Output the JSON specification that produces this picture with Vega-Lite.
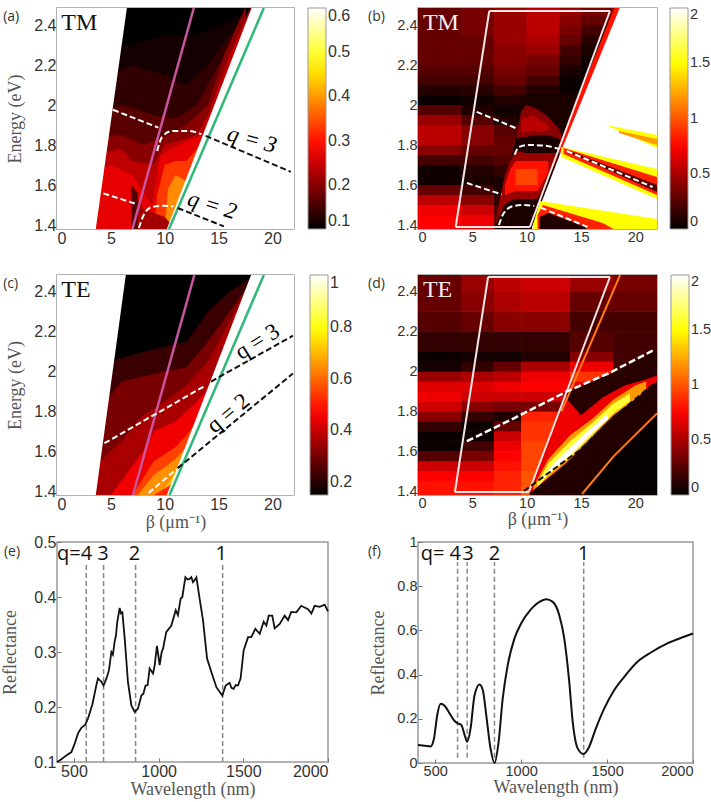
{"$schema":"https://vega.github.io/schema/vega-lite/v6.json","padding":{"left":1,"top":6,"right":0,"bottom":0},"background":"white","columns":2,"align":"all","bounds":"flush","spacing":{"column":86,"row":46},"resolve":{"scale":{"color":"independent","stroke":"independent","fill":"independent"},"legend":{"color":"independent","stroke":"independent","fill":"independent"}},
"config":{"view":{"stroke":"#999","strokeWidth":1.5},"axis":{"domain":false,"grid":false,"tickColor":"#777","tickSize":-4,"labelPadding":5,"labelFont":"Liberation Sans","labelFontSize":14.5,"labelColor":"#333","titleFont":"Liberation Serif","titleFontSize":18,"titleFontWeight":"normal","titleColor":"#555"},"legend":{"title":null,"orient":"right","offset":13,"padding":0,"gradientLength":221,"gradientThickness":18,"labelFont":"Liberation Sans","labelFontSize":14.5,"labelColor":"#333","gradientStrokeColor":"#999","gradientStrokeWidth":1,"labelOffset":4}},
"datasets":{"bcells":[
{"x":0,"X":4,"y":1.38,"Y":1.45,"v":0.75},{"x":4,"X":7,"y":1.38,"Y":1.45,"v":0.7},{"x":7,"X":10,"y":1.38,"Y":1.45,"v":0.3},
{"x":0,"X":4,"y":1.45,"Y":1.5,"v":0.7},{"x":4,"X":7,"y":1.45,"Y":1.5,"v":0.6},{"x":7,"X":10,"y":1.45,"Y":1.5,"v":0.25},
{"x":0,"X":4,"y":1.5,"Y":1.55,"v":0.55},{"x":4,"X":7,"y":1.5,"Y":1.55,"v":0.4},{"x":7,"X":10,"y":1.5,"Y":1.55,"v":0.15},
{"x":0,"X":4,"y":1.55,"Y":1.6,"v":0.3},{"x":4,"X":7,"y":1.55,"Y":1.6,"v":0.2},{"x":7,"X":10,"y":1.55,"Y":1.6,"v":0.08},
{"x":0,"X":4,"y":1.6,"Y":1.65,"v":0.05},{"x":4,"X":7,"y":1.6,"Y":1.65,"v":0.08},{"x":7,"X":10,"y":1.6,"Y":1.65,"v":0.08},
{"x":0,"X":4,"y":1.65,"Y":1.7,"v":0.05},{"x":4,"X":7,"y":1.65,"Y":1.7,"v":0.1},{"x":7,"X":10,"y":1.65,"Y":1.7,"v":0.15},
{"x":0,"X":4,"y":1.7,"Y":1.75,"v":0.2},{"x":4,"X":7,"y":1.7,"Y":1.75,"v":0.2},{"x":7,"X":10,"y":1.7,"Y":1.75,"v":0.25},
{"x":0,"X":4,"y":1.75,"Y":1.8,"v":0.4},{"x":4,"X":7,"y":1.75,"Y":1.8,"v":0.3},{"x":7,"X":10,"y":1.75,"Y":1.8,"v":0.3},
{"x":0,"X":4,"y":1.8,"Y":1.85,"v":0.55},{"x":4,"X":7,"y":1.8,"Y":1.85,"v":0.4},{"x":7,"X":10,"y":1.8,"Y":1.85,"v":0.3},
{"x":0,"X":4,"y":1.85,"Y":1.9,"v":0.55},{"x":4,"X":7,"y":1.85,"Y":1.9,"v":0.4},{"x":7,"X":10,"y":1.85,"Y":1.9,"v":0.25},
{"x":0,"X":4,"y":1.9,"Y":1.95,"v":0.45},{"x":4,"X":7,"y":1.9,"Y":1.95,"v":0.25},{"x":7,"X":10,"y":1.9,"Y":1.95,"v":0.1},
{"x":0,"X":4,"y":1.95,"Y":2,"v":0.25},{"x":4,"X":7,"y":1.95,"Y":2,"v":0.1},{"x":7,"X":10,"y":1.95,"Y":2,"v":0.05},
{"x":0,"X":4,"y":2,"Y":2.05,"v":0.03},{"x":4,"X":7,"y":2,"Y":2.05,"v":0.05},{"x":7,"X":10,"y":2,"Y":2.05,"v":0.1},
{"x":0,"X":4,"y":2.05,"Y":2.1,"v":0.1},{"x":4,"X":7,"y":2.05,"Y":2.1,"v":0.12},{"x":7,"X":10,"y":2.05,"Y":2.1,"v":0.2},{"x":10,"X":13,"y":2.05,"Y":2.1,"v":0.1},{"x":13,"X":15,"y":2.05,"Y":2.1,"v":0.03},{"x":15,"X":19,"y":2.05,"Y":2.1,"v":0.03},
{"x":0,"X":4,"y":2.1,"Y":2.15,"v":0.2},{"x":4,"X":7,"y":2.1,"Y":2.15,"v":0.2},{"x":7,"X":10,"y":2.1,"Y":2.15,"v":0.3},{"x":10,"X":13,"y":2.1,"Y":2.15,"v":0.2},{"x":13,"X":15,"y":2.1,"Y":2.15,"v":0.03},{"x":15,"X":19,"y":2.1,"Y":2.15,"v":0.03},
{"x":0,"X":4,"y":2.15,"Y":2.2,"v":0.25},{"x":4,"X":7,"y":2.15,"Y":2.2,"v":0.25},{"x":7,"X":10,"y":2.15,"Y":2.2,"v":0.35},{"x":10,"X":13,"y":2.15,"Y":2.2,"v":0.3},{"x":13,"X":15,"y":2.15,"Y":2.2,"v":0.08},{"x":15,"X":19,"y":2.15,"Y":2.2,"v":0.03},
{"x":0,"X":4,"y":2.2,"Y":2.25,"v":0.3},{"x":4,"X":7,"y":2.2,"Y":2.25,"v":0.3},{"x":7,"X":10,"y":2.2,"Y":2.25,"v":0.4},{"x":10,"X":13,"y":2.2,"Y":2.25,"v":0.35},{"x":13,"X":15,"y":2.2,"Y":2.25,"v":0.15},{"x":15,"X":19,"y":2.2,"Y":2.25,"v":0.04},
{"x":0,"X":4,"y":2.25,"Y":2.3,"v":0.3},{"x":4,"X":7,"y":2.25,"Y":2.3,"v":0.3},{"x":7,"X":10,"y":2.25,"Y":2.3,"v":0.4},{"x":10,"X":13,"y":2.25,"Y":2.3,"v":0.45},{"x":13,"X":15,"y":2.25,"Y":2.3,"v":0.2},{"x":15,"X":19,"y":2.25,"Y":2.3,"v":0.08},
{"x":0,"X":4,"y":2.3,"Y":2.35,"v":0.3},{"x":4,"X":7,"y":2.3,"Y":2.35,"v":0.3},{"x":7,"X":10,"y":2.3,"Y":2.35,"v":0.45},{"x":10,"X":13,"y":2.3,"Y":2.35,"v":0.5},{"x":13,"X":15,"y":2.3,"Y":2.35,"v":0.3},{"x":15,"X":19,"y":2.3,"Y":2.35,"v":0.12},
{"x":0,"X":4,"y":2.35,"Y":2.4,"v":0.3},{"x":4,"X":7,"y":2.35,"Y":2.4,"v":0.35},{"x":7,"X":10,"y":2.35,"Y":2.4,"v":0.45},{"x":10,"X":13,"y":2.35,"Y":2.4,"v":0.55},{"x":13,"X":15,"y":2.35,"Y":2.4,"v":0.35},{"x":15,"X":19,"y":2.35,"Y":2.4,"v":0.2},
{"x":0,"X":4,"y":2.4,"Y":2.45,"v":0.3},{"x":4,"X":7,"y":2.4,"Y":2.45,"v":0.35},{"x":7,"X":10,"y":2.4,"Y":2.45,"v":0.45},{"x":10,"X":13,"y":2.4,"Y":2.45,"v":0.55},{"x":13,"X":15,"y":2.4,"Y":2.45,"v":0.4},{"x":15,"X":19,"y":2.4,"Y":2.45,"v":0.3},
{"x":0,"X":4,"y":2.45,"Y":2.49,"v":0.3},{"x":4,"X":7,"y":2.45,"Y":2.49,"v":0.35},{"x":7,"X":10,"y":2.45,"Y":2.49,"v":0.45},{"x":10,"X":13,"y":2.45,"Y":2.49,"v":0.55},{"x":13,"X":15,"y":2.45,"Y":2.49,"v":0.45},{"x":15,"X":19,"y":2.45,"Y":2.49,"v":0.35}],
"dcells":[
{"x":0,"X":4,"y":1.38,"Y":1.45,"v":0.8},{"x":4,"X":7,"y":1.38,"Y":1.45,"v":0.8},{"x":7,"X":9.5,"y":1.38,"Y":1.45,"v":0.85},{"x":9.5,"X":14,"y":1.38,"Y":1.45,"v":1},
{"x":0,"X":4,"y":1.45,"Y":1.5,"v":0.75},{"x":4,"X":7,"y":1.45,"Y":1.5,"v":0.75},{"x":7,"X":9.5,"y":1.45,"Y":1.5,"v":0.85},{"x":9.5,"X":14,"y":1.45,"Y":1.5,"v":1},
{"x":0,"X":4,"y":1.5,"Y":1.55,"v":0.6},{"x":4,"X":7,"y":1.5,"Y":1.55,"v":0.6},{"x":7,"X":9.5,"y":1.5,"Y":1.55,"v":0.8},{"x":9.5,"X":14,"y":1.5,"Y":1.55,"v":0.95},
{"x":0,"X":4,"y":1.55,"Y":1.6,"v":0.25},{"x":4,"X":7,"y":1.55,"Y":1.6,"v":0.35},{"x":7,"X":9.5,"y":1.55,"Y":1.6,"v":0.75},{"x":9.5,"X":14,"y":1.55,"Y":1.6,"v":0.95},
{"x":0,"X":4,"y":1.6,"Y":1.65,"v":0.03},{"x":4,"X":7,"y":1.6,"Y":1.65,"v":0.2},{"x":7,"X":9.5,"y":1.6,"Y":1.65,"v":0.7},{"x":9.5,"X":14,"y":1.6,"Y":1.65,"v":0.95},
{"x":0,"X":4,"y":1.65,"Y":1.7,"v":0.03},{"x":4,"X":7,"y":1.65,"Y":1.7,"v":0.03},{"x":7,"X":9.5,"y":1.65,"Y":1.7,"v":0.6},{"x":9.5,"X":14,"y":1.65,"Y":1.7,"v":0.9},
{"x":0,"X":4,"y":1.7,"Y":1.75,"v":0.15},{"x":4,"X":7,"y":1.7,"Y":1.75,"v":0.03},{"x":7,"X":9.5,"y":1.7,"Y":1.75,"v":0.3},{"x":9.5,"X":14,"y":1.7,"Y":1.75,"v":0.9},
{"x":0,"X":4,"y":1.75,"Y":1.8,"v":0.4},{"x":4,"X":7,"y":1.75,"Y":1.8,"v":0.15},{"x":7,"X":9.5,"y":1.75,"Y":1.8,"v":0.1},{"x":9.5,"X":14,"y":1.75,"Y":1.8,"v":0.85},
{"x":0,"X":4,"y":1.8,"Y":1.85,"v":0.6},{"x":4,"X":7,"y":1.8,"Y":1.85,"v":0.4},{"x":7,"X":9.5,"y":1.8,"Y":1.85,"v":0.35},{"x":9.5,"X":14,"y":1.8,"Y":1.85,"v":0.35},
{"x":0,"X":4,"y":1.85,"Y":1.9,"v":0.7},{"x":4,"X":7,"y":1.85,"Y":1.9,"v":0.6},{"x":7,"X":9.5,"y":1.85,"Y":1.9,"v":0.6},{"x":9.5,"X":14,"y":1.85,"Y":1.9,"v":0.6},
{"x":0,"X":4,"y":1.9,"Y":1.95,"v":0.65},{"x":4,"X":7,"y":1.9,"Y":1.95,"v":0.65},{"x":7,"X":9.5,"y":1.9,"Y":1.95,"v":0.7},{"x":9.5,"X":14,"y":1.9,"Y":1.95,"v":0.75},{"x":14,"X":18,"y":1.9,"Y":1.95,"v":0.7},{"x":18,"X":22,"y":1.9,"Y":1.95,"v":0.2},
{"x":0,"X":4,"y":1.95,"Y":2,"v":0.45},{"x":4,"X":7,"y":1.95,"Y":2,"v":0.5},{"x":7,"X":9.5,"y":1.95,"Y":2,"v":0.55},{"x":9.5,"X":14,"y":1.95,"Y":2,"v":0.7},{"x":14,"X":18,"y":1.95,"Y":2,"v":0.9},{"x":18,"X":22,"y":1.95,"Y":2,"v":0.2},
{"x":0,"X":4,"y":2,"Y":2.05,"v":0.06},{"x":4,"X":7,"y":2,"Y":2.05,"v":0.15},{"x":7,"X":9.5,"y":2,"Y":2.05,"v":0.3},{"x":9.5,"X":14,"y":2,"Y":2.05,"v":0.5},{"x":14,"X":18,"y":2,"Y":2.05,"v":0.7},{"x":18,"X":22,"y":2,"Y":2.05,"v":0.2},
{"x":0,"X":4,"y":2.05,"Y":2.1,"v":0.03},{"x":4,"X":7,"y":2.05,"Y":2.1,"v":0.06},{"x":7,"X":9.5,"y":2.05,"Y":2.1,"v":0.06},{"x":9.5,"X":14,"y":2.05,"Y":2.1,"v":0.1},{"x":14,"X":18,"y":2.05,"Y":2.1,"v":0.4},{"x":18,"X":22,"y":2.05,"Y":2.1,"v":0.2},
{"x":0,"X":4,"y":2.1,"Y":2.2,"v":0.15},{"x":4,"X":7,"y":2.1,"Y":2.2,"v":0.15},{"x":7,"X":9.5,"y":2.1,"Y":2.2,"v":0.15},{"x":9.5,"X":14,"y":2.1,"Y":2.2,"v":0.15},{"x":14,"X":18,"y":2.1,"Y":2.2,"v":0.25},{"x":18,"X":22,"y":2.1,"Y":2.2,"v":0.2},
{"x":0,"X":4,"y":2.2,"Y":2.3,"v":0.25},{"x":4,"X":7,"y":2.2,"Y":2.3,"v":0.3},{"x":7,"X":9.5,"y":2.2,"Y":2.3,"v":0.4},{"x":9.5,"X":14,"y":2.2,"Y":2.3,"v":0.4},{"x":14,"X":18,"y":2.2,"Y":2.3,"v":0.2},{"x":18,"X":22,"y":2.2,"Y":2.3,"v":0.2},
{"x":0,"X":4,"y":2.3,"Y":2.4,"v":0.3},{"x":4,"X":7,"y":2.3,"Y":2.4,"v":0.4},{"x":7,"X":9.5,"y":2.3,"Y":2.4,"v":0.5},{"x":9.5,"X":14,"y":2.3,"Y":2.4,"v":0.55},{"x":14,"X":18,"y":2.3,"Y":2.4,"v":0.3},{"x":18,"X":22,"y":2.3,"Y":2.4,"v":0.3},
{"x":0,"X":4,"y":2.4,"Y":2.49,"v":0.3},{"x":4,"X":7,"y":2.4,"Y":2.49,"v":0.45},{"x":7,"X":9.5,"y":2.4,"Y":2.49,"v":0.55},{"x":9.5,"X":14,"y":2.4,"Y":2.49,"v":0.6},{"x":14,"X":18,"y":2.4,"Y":2.49,"v":0.45},{"x":18,"X":22,"y":2.4,"Y":2.49,"v":0.35}]},
"concat":[
{"width":237,"height":221,"encoding":{"x":{"field":"x","type":"quantitative","scale":{"domain":[0,22]},"axis":{"values":[0,5,10,15,20],"title":null,"labelFontSize":16}},"y":{"field":"y","type":"quantitative","scale":{"domain":[1.38,2.485]},"axis":{"values":[1.4,1.6,1.8,2,2.2,2.4],"format":".2~f","title":"Energy (eV)","titlePadding":9,"labelFontSize":16}}},
"layer":[
{"data":{"values":[{"s":0,"x":3,"y":1.38,"Y":2.49,"v":0.1},{"s":0,"x":19,"y":1.38,"Y":2.49,"v":0.1},
{"s":1,"x":3,"y":1.38,"Y":2.3,"v":0.115},{"s":1,"x":7,"y":1.38,"Y":2.3,"v":0.115},{"s":1,"x":10,"y":1.38,"Y":2.35,"v":0.115},{"s":1,"x":13,"y":1.38,"Y":2.35,"v":0.115},{"s":1,"x":16,"y":1.38,"Y":2.42,"v":0.115},{"s":1,"x":19,"y":1.38,"Y":2.49,"v":0.115},
{"s":2,"x":3,"y":1.38,"Y":2.1,"v":0.135},{"s":2,"x":7,"y":1.38,"Y":2.2,"v":0.135},{"s":2,"x":10,"y":1.38,"Y":2.15,"v":0.135},{"s":2,"x":12,"y":1.38,"Y":2.1,"v":0.135},{"s":2,"x":14,"y":1.38,"Y":2.2,"v":0.135},{"s":2,"x":16,"y":1.38,"Y":2.35,"v":0.135},{"s":2,"x":19,"y":1.38,"Y":2.49,"v":0.135},
{"s":3,"x":3,"y":1.38,"Y":1.95,"v":0.165},{"s":3,"x":6,"y":1.38,"Y":2,"v":0.165},{"s":3,"x":9,"y":1.38,"Y":1.95,"v":0.165},{"s":3,"x":11,"y":1.38,"Y":1.93,"v":0.165},{"s":3,"x":13,"y":1.38,"Y":2,"v":0.165},{"s":3,"x":15,"y":1.38,"Y":2.2,"v":0.165},{"s":3,"x":19,"y":1.38,"Y":2.49,"v":0.165},
{"s":4,"x":3,"y":1.38,"Y":1.83,"v":0.2},{"s":4,"x":6,"y":1.38,"Y":1.85,"v":0.2},{"s":4,"x":8,"y":1.38,"Y":1.8,"v":0.2},{"s":4,"x":10,"y":1.38,"Y":1.84,"v":0.2},{"s":4,"x":12,"y":1.38,"Y":1.9,"v":0.2},{"s":4,"x":14,"y":1.38,"Y":2,"v":0.2},{"s":4,"x":15.5,"y":1.38,"Y":2.25,"v":0.2},{"s":4,"x":17.5,"y":1.38,"Y":2.49,"v":0.2},
{"s":5,"x":3,"y":1.38,"Y":1.75,"v":0.24},{"s":5,"x":6,"y":1.38,"Y":1.78,"v":0.24},{"s":5,"x":7,"y":1.38,"Y":1.72,"v":0.24},{"s":5,"x":9,"y":1.38,"Y":1.7,"v":0.24},{"s":5,"x":10,"y":1.38,"Y":1.8,"v":0.24},{"s":5,"x":13,"y":1.38,"Y":1.85,"v":0.24},{"s":5,"x":14,"y":1.38,"Y":1.95,"v":0.24},{"s":5,"x":16,"y":1.38,"Y":2.25,"v":0.24},{"s":5,"x":18,"y":1.38,"Y":2.49,"v":0.24},
{"s":6,"x":3,"y":1.38,"Y":1.65,"v":0.27},{"s":6,"x":5,"y":1.38,"Y":1.7,"v":0.27},{"s":6,"x":7,"y":1.38,"Y":1.65,"v":0.27},{"s":6,"x":8.8,"y":1.38,"Y":1.5,"v":0.27},{"s":6,"x":9.6,"y":1.38,"Y":1.75,"v":0.27},{"s":6,"x":12,"y":1.38,"Y":1.82,"v":0.27},{"s":6,"x":13.5,"y":1.38,"Y":1.85,"v":0.27},{"s":6,"x":14.5,"y":1.38,"Y":1.98,"v":0.27},
{"s":7,"x":9,"y":1.38,"Y":1.38,"v":0.33},{"s":7,"x":9.3,"y":1.38,"Y":1.55,"v":0.33},{"s":7,"x":10,"y":1.38,"Y":1.7,"v":0.33},{"s":7,"x":11,"y":1.38,"Y":1.72,"v":0.33},{"s":7,"x":12,"y":1.38,"Y":1.72,"v":0.33},{"s":7,"x":13,"y":1.38,"Y":1.78,"v":0.33},{"s":7,"x":13.5,"y":1.38,"Y":1.8,"v":0.33},
{"s":8,"x":10,"y":1.38,"Y":1.38,"v":0.39},{"s":8,"x":10.3,"y":1.38,"Y":1.58,"v":0.39},{"s":8,"x":11,"y":1.38,"Y":1.65,"v":0.39},{"s":8,"x":12,"y":1.38,"Y":1.62,"v":0.39},{"s":8,"x":13,"y":1.38,"Y":1.73,"v":0.39},
{"s":9,"x":11.5,"y":1.38,"Y":1.38,"v":0.45},{"s":9,"x":12,"y":1.38,"Y":1.6,"v":0.45},{"s":9,"x":12.8,"y":1.38,"Y":1.68,"v":0.45},
{"s":10,"x":7.3,"y":1.38,"Y":1.55,"v":0.22},{"s":10,"x":8,"y":1.38,"Y":1.48,"v":0.22},{"s":10,"x":10,"y":1.38,"Y":1.44,"v":0.22},{"s":10,"x":11,"y":1.38,"Y":1.38,"v":0.22},
{"s":11,"x":6.9,"y":1.38,"Y":1.6,"v":0.16},{"s":11,"x":7.5,"y":1.38,"Y":1.56,"v":0.16},
{"s":12,"x":0,"y":1.38,"Y":2.49,"v":0.6},{"s":12,"x":3.6,"y":1.38,"Y":2.49,"v":0.6},{"s":12,"x":6.5,"y":2.49,"Y":2.49,"v":0.6},
{"s":13,"x":10.2,"y":1.38,"Y":1.38,"v":0.6},{"s":13,"x":18.1,"y":1.38,"Y":2.49,"v":0.6},{"s":13,"x":22,"y":1.38,"Y":2.49,"v":0.6}]},
"mark":{"type":"area","clip":true},"encoding":{"y2":{"field":"Y"},"detail":{"field":"s"},"color":{"field":"v","type":"quantitative","scale":{"domain":[0.1,0.2875,0.475,0.6],"range":["#000000","#ff0000","#ffff00","#ffffff"],"interpolate":"rgb"},"legend":{"type":"gradient","format":".1f","values":[0.1,0.2,0.3,0.4,0.5,0.6],"labelFontSize":16}}}},
{"data":{"values":[{"s":"p","x":7,"y":1.38},{"s":"p","x":12.7,"y":2.485}]},"mark":{"type":"line","stroke":"#c9559f","strokeWidth":2.5,"clip":true},"encoding":{"detail":{"field":"s"}}},
{"data":{"values":[{"s":"g","x":10.4,"y":1.38},{"s":"g","x":19.2,"y":2.485}]},"mark":{"type":"line","stroke":"#2fb87a","strokeWidth":2.5,"clip":true},"encoding":{"detail":{"field":"s"}}},
{"data":{"values":[{"s":1,"x":5.2,"y":1.976},{"s":1,"x":9.4,"y":1.887},{"s":2,"x":9.3,"y":1.77},{"s":2,"x":9.75,"y":1.84},{"s":2,"x":10.7,"y":1.87},{"s":2,"x":12.2,"y":1.87},{"s":2,"x":13.4,"y":1.854},{"s":3,"x":4.3,"y":1.558},{"s":3,"x":7.3,"y":1.506},{"s":4,"x":7.6,"y":1.385},{"s":4,"x":8.05,"y":1.45},{"s":4,"x":8.8,"y":1.49},{"s":4,"x":9.75,"y":1.496},{"s":4,"x":10.8,"y":1.493}]},"mark":{"type":"line","stroke":"#ffffff","strokeWidth":2,"strokeDash":[6,3],"interpolate":"monotone"},"encoding":{"detail":{"field":"s"}}},
{"data":{"values":[{"s":1,"x":13.8,"y":1.846},{"s":1,"x":21.7,"y":1.666},{"s":2,"x":11.2,"y":1.485},{"s":2,"x":15.5,"y":1.393}]},"mark":{"type":"line","stroke":"#111111","strokeWidth":2,"strokeDash":[6,3]},"encoding":{"detail":{"field":"s"}}},
{"data":{"values":[{"x":18.1,"y":1.826,"t":"q = 3"}]},"mark":{"type":"text","font":"Liberation Serif","fontStyle":"italic","fontSize":23,"angle":15},"encoding":{"text":{"field":"t"}}},
{"data":{"values":[{"x":14.4,"y":1.498,"t":"q = 2"}]},"mark":{"type":"text","font":"Liberation Serif","fontStyle":"italic","fontSize":23,"angle":17},"encoding":{"text":{"field":"t"}}},
{"data":{"values":[{"x":0.4,"y":2.41,"t":"TM"}]},"mark":{"type":"text","font":"Liberation Serif","fontSize":24,"align":"left","color":"#111"},"encoding":{"text":{"field":"t"}}},
{"data":{"values":[{"x":-5,"y":2.44,"t":"(a)"}]},"mark":{"type":"text","font":"Open Sans","fontSize":14,"align":"left","color":"#333"},"encoding":{"text":{"field":"t"}}}
]},
{"width":239,"height":221,"encoding":{"x":{"field":"x","type":"quantitative","scale":{"domain":[0,22]},"axis":{"values":[0,5,10,15,20],"title":null}},"y":{"field":"y","type":"quantitative","scale":{"domain":[1.38,2.485]},"axis":{"values":[1.4,1.6,1.8,2,2.2,2.4],"format":".2~f","title":null}}},
"layer":[
{"data":{"name":"bcells"},"mark":{"type":"rect","clip":true,"fillOpacity":0,"strokeWidth":0.8},"encoding":{"x2":{"field":"X"},"y2":{"field":"Y"},"stroke":{"field":"v","type":"quantitative","scale":{"domain":[0,0.75,1.5,2.0001],"range":["#000000","#ff0000","#ffff00","#ffffff"],"interpolate":"rgb"},"legend":null}}},
{"data":{"name":"bcells"},"mark":{"type":"rect","clip":true},"encoding":{"x2":{"field":"X"},"y2":{"field":"Y"},"color":{"field":"v","type":"quantitative","scale":{"domain":[0,0.75,1.5,2],"range":["#000000","#ff0000","#ffff00","#ffffff"],"interpolate":"rgb"},"legend":{"type":"gradient","format":"~g","values":[0,0.5,1,1.5,2]}}}},
{"data":{"values":[
{"s":1,"x":7,"y":1.38,"Y":1.38,"v":0.08},{"s":1,"x":8,"y":1.38,"Y":1.6,"v":0.08},{"s":1,"x":9,"y":1.38,"Y":1.83,"v":0.08},{"s":1,"x":9.5,"y":1.38,"Y":2,"v":0.08},{"s":1,"x":10,"y":1.38,"Y":2.06,"v":0.08},{"s":1,"x":12,"y":1.38,"Y":2.06,"v":0.08},{"s":1,"x":14,"y":1.38,"Y":2.06,"v":0.08},{"s":1,"x":19,"y":1.38,"Y":2.06,"v":0.08},
{"s":2,"x":9.1,"y":1.83,"Y":1.86,"v":0.4},{"s":2,"x":9.5,"y":1.84,"Y":1.97,"v":0.4},{"s":2,"x":10,"y":1.84,"Y":2,"v":0.4},{"s":2,"x":11,"y":1.85,"Y":1.98,"v":0.4},{"s":2,"x":12,"y":1.85,"Y":1.94,"v":0.4},{"s":2,"x":13,"y":1.83,"Y":1.88,"v":0.4},{"s":2,"x":13.4,"y":1.81,"Y":1.82,"v":0.4},
{"s":3,"x":9.5,"y":1.86,"Y":1.93,"v":0.55},{"s":3,"x":10.5,"y":1.87,"Y":1.95,"v":0.55},{"s":3,"x":12,"y":1.87,"Y":1.9,"v":0.55},
{"s":4,"x":7.2,"y":1.4,"Y":1.42,"v":0.45},{"s":4,"x":7.5,"y":1.45,"Y":1.52,"v":0.45},{"s":4,"x":8,"y":1.5,"Y":1.65,"v":0.45},{"s":4,"x":8.5,"y":1.52,"Y":1.72,"v":0.45},{"s":4,"x":9,"y":1.53,"Y":1.77,"v":0.45},{"s":4,"x":10,"y":1.53,"Y":1.76,"v":0.45},{"s":4,"x":11,"y":1.53,"Y":1.76,"v":0.45},{"s":4,"x":12,"y":1.63,"Y":1.76,"v":0.45},{"s":4,"x":12.9,"y":1.74,"Y":1.76,"v":0.45},
{"s":5,"x":8,"y":1.55,"Y":1.6,"v":0.8},{"s":5,"x":8.5,"y":1.56,"Y":1.68,"v":0.8},{"s":5,"x":9,"y":1.57,"Y":1.72,"v":0.8},{"s":5,"x":10,"y":1.57,"Y":1.72,"v":0.8},{"s":5,"x":11,"y":1.57,"Y":1.72,"v":0.8},{"s":5,"x":12,"y":1.66,"Y":1.72,"v":0.8},
{"s":6,"x":9,"y":1.6,"Y":1.68,"v":0.95},{"s":6,"x":10,"y":1.6,"Y":1.68,"v":0.95},{"s":6,"x":11,"y":1.6,"Y":1.68,"v":0.95},
{"s":7,"x":13,"y":1.74,"Y":1.8,"v":0.8},{"s":7,"x":18.1,"y":2.41,"Y":2.49,"v":0.8},{"s":7,"x":18.6,"y":2.48,"Y":2.49,"v":0.8},
{"s":8,"x":10.5,"y":1.38,"Y":1.39,"v":2},{"s":8,"x":13.4,"y":1.38,"Y":1.8,"v":2},{"s":8,"x":18.6,"y":1.38,"Y":2.49,"v":2},{"s":8,"x":22,"y":1.38,"Y":2.49,"v":2},
{"s":9,"x":13.2,"y":1.74,"Y":1.79,"v":1.5},{"s":9,"x":22,"y":1.53,"Y":1.68,"v":1.5},
{"s":10,"x":13.4,"y":1.755,"Y":1.785,"v":0.85},{"s":10,"x":22,"y":1.55,"Y":1.64,"v":0.85},
{"s":11,"x":14,"y":1.76,"Y":1.77,"v":0.25},{"s":11,"x":22,"y":1.565,"Y":1.6,"v":0.25},
{"s":12,"x":10.6,"y":1.38,"Y":1.4,"v":1.5},{"s":12,"x":11.2,"y":1.38,"Y":1.52,"v":1.5},{"s":12,"x":22,"y":1.38,"Y":1.43,"v":1.5},
{"s":13,"x":11,"y":1.38,"Y":1.45,"v":0.85},{"s":13,"x":11.5,"y":1.38,"Y":1.5,"v":0.85},{"s":13,"x":17,"y":1.38,"Y":1.41,"v":0.85},{"s":13,"x":18,"y":1.38,"Y":1.38,"v":0.85},
{"s":14,"x":11.2,"y":1.38,"Y":1.44,"v":0.1},{"s":14,"x":12,"y":1.38,"Y":1.46,"v":0.1},{"s":14,"x":15.5,"y":1.38,"Y":1.39,"v":0.1},
{"s":15,"x":17.3,"y":1.9,"Y":1.9,"v":1.5},{"s":15,"x":22,"y":1.785,"Y":1.85,"v":1.5},
{"s":16,"x":18.5,"y":1.86,"Y":1.87,"v":1.2},{"s":16,"x":22,"y":1.8,"Y":1.83,"v":1.2}]},
"mark":{"type":"area","clip":true},"encoding":{"y2":{"field":"Y"},"detail":{"field":"s"},"fill":{"field":"v","type":"quantitative","scale":{"domain":[0,0.75,1.5,2.0001],"range":["#000000","#ff0000","#ffff00","#ffffff"],"interpolate":"rgb"},"legend":null}}},
{"data":{"values":[{"s":1,"x":3.47,"y":1.39},{"s":1,"x":6.56,"y":2.47},{"s":2,"x":6.56,"y":2.47},{"s":2,"x":17.67,"y":2.47},{"s":3,"x":10.3,"y":1.39},{"s":3,"x":17.67,"y":2.47},{"s":4,"x":3.47,"y":1.39},{"s":4,"x":10.3,"y":1.39}]},"mark":{"type":"line","stroke":"#f2e6e6","strokeWidth":2},"encoding":{"detail":{"field":"s"}}},
{"data":{"values":[{"s":1,"x":5.4,"y":1.966},{"s":1,"x":9.2,"y":1.88},{"s":2,"x":8.9,"y":1.752},{"s":2,"x":9.3,"y":1.79},{"s":2,"x":10.06,"y":1.8},{"s":2,"x":11.6,"y":1.797},{"s":2,"x":13,"y":1.78},{"s":3,"x":4.5,"y":1.61},{"s":3,"x":7.7,"y":1.553},{"s":4,"x":7.45,"y":1.4},{"s":4,"x":7.9,"y":1.46},{"s":4,"x":8.8,"y":1.495},{"s":4,"x":9.75,"y":1.5},{"s":4,"x":10.7,"y":1.495},{"s":5,"x":13.7,"y":1.77},{"s":5,"x":21.6,"y":1.59},{"s":6,"x":11.3,"y":1.487},{"s":6,"x":15.6,"y":1.39}]},"mark":{"type":"line","stroke":"#ffffff","strokeWidth":2,"strokeDash":[6,3],"interpolate":"monotone"},"encoding":{"detail":{"field":"s"}}},
{"data":{"values":[{"x":0.45,"y":2.41,"t":"TM"}]},"mark":{"type":"text","font":"Liberation Serif","fontSize":24,"align":"left","color":"#f5eeee"},"encoding":{"text":{"field":"t"}}},
{"data":{"values":[{"x":-4.6,"y":2.44,"t":"(b)"}]},"mark":{"type":"text","font":"Open Sans","fontSize":14,"align":"left","color":"#333"},"encoding":{"text":{"field":"t"}}}
]},
{"width":237,"height":220,"encoding":{"x":{"field":"x","type":"quantitative","scale":{"domain":[0,22]},"axis":{"values":[0,5,10,15,20],"title":"β (μm⁻¹)","titlePadding":1,"labelFontSize":16}},"y":{"field":"y","type":"quantitative","scale":{"domain":[1.38,2.485]},"axis":{"values":[1.4,1.6,1.8,2,2.2,2.4],"format":".2~f","title":"Energy (eV)","titlePadding":9,"labelFontSize":16}}},
"layer":[
{"data":{"values":[{"s":0,"x":3,"y":1.38,"Y":2.49,"v":0.15},{"s":0,"x":19,"y":1.38,"Y":2.49,"v":0.15},
{"s":1,"x":3,"y":1.38,"Y":2,"v":0.22},{"s":1,"x":5,"y":1.38,"Y":2.05,"v":0.22},{"s":1,"x":8,"y":1.38,"Y":2.1,"v":0.22},{"s":1,"x":12,"y":1.38,"Y":2.15,"v":0.22},{"s":1,"x":14,"y":1.38,"Y":2.3,"v":0.22},{"s":1,"x":16,"y":1.38,"Y":2.4,"v":0.22},{"s":1,"x":18.5,"y":1.38,"Y":2.49,"v":0.22},
{"s":2,"x":3,"y":1.38,"Y":1.75,"v":0.3},{"s":2,"x":6,"y":1.38,"Y":1.95,"v":0.3},{"s":2,"x":10,"y":1.38,"Y":2,"v":0.3},{"s":2,"x":12,"y":1.38,"Y":2.02,"v":0.3},{"s":2,"x":14,"y":1.38,"Y":2.15,"v":0.3},{"s":2,"x":16,"y":1.38,"Y":2.3,"v":0.3},{"s":2,"x":18.5,"y":1.38,"Y":2.49,"v":0.3},
{"s":3,"x":3,"y":1.38,"Y":1.5,"v":0.36},{"s":3,"x":6,"y":1.38,"Y":1.65,"v":0.36},{"s":3,"x":8,"y":1.38,"Y":1.78,"v":0.36},{"s":3,"x":10,"y":1.38,"Y":1.85,"v":0.36},{"s":3,"x":12,"y":1.38,"Y":1.93,"v":0.36},{"s":3,"x":14,"y":1.38,"Y":2.05,"v":0.36},{"s":3,"x":16,"y":1.38,"Y":2.25,"v":0.36},{"s":3,"x":18,"y":1.38,"Y":2.46,"v":0.36},
{"s":4,"x":5,"y":1.38,"Y":1.38,"v":0.45},{"s":4,"x":8,"y":1.38,"Y":1.6,"v":0.45},{"s":4,"x":9,"y":1.38,"Y":1.7,"v":0.45},{"s":4,"x":11,"y":1.38,"Y":1.75,"v":0.45},{"s":4,"x":13,"y":1.38,"Y":1.85,"v":0.45},{"s":4,"x":15,"y":1.38,"Y":1.98,"v":0.45},{"s":4,"x":17,"y":1.38,"Y":2.25,"v":0.45},
{"s":5,"x":7,"y":1.38,"Y":1.38,"v":0.55},{"s":5,"x":9,"y":1.38,"Y":1.55,"v":0.55},{"s":5,"x":11,"y":1.38,"Y":1.62,"v":0.55},{"s":5,"x":12,"y":1.38,"Y":1.68,"v":0.55},{"s":5,"x":13,"y":1.38,"Y":1.75,"v":0.55},{"s":5,"x":15,"y":1.38,"Y":1.95,"v":0.55},
{"s":6,"x":7.5,"y":1.38,"Y":1.38,"v":0.65},{"s":6,"x":9,"y":1.38,"Y":1.48,"v":0.65},{"s":6,"x":10,"y":1.38,"Y":1.52,"v":0.65},{"s":6,"x":11,"y":1.38,"Y":1.56,"v":0.65},{"s":6,"x":12,"y":1.38,"Y":1.62,"v":0.65},{"s":6,"x":13,"y":1.38,"Y":1.73,"v":0.65},
{"s":7,"x":9.5,"y":1.38,"Y":1.38,"v":0.72},{"s":7,"x":10.5,"y":1.38,"Y":1.45,"v":0.72},{"s":7,"x":11.5,"y":1.38,"Y":1.55,"v":0.72},{"s":7,"x":12.5,"y":1.38,"Y":1.68,"v":0.72},
{"s":8,"x":9,"y":1.38,"Y":1.38,"v":0.52},{"s":8,"x":10.5,"y":1.38,"Y":1.43,"v":0.52},{"s":8,"x":11,"y":1.38,"Y":1.46,"v":0.52},
{"s":9,"x":0,"y":1.38,"Y":2.49,"v":1},{"s":9,"x":3.6,"y":1.38,"Y":2.49,"v":1},{"s":9,"x":6.4,"y":2.49,"Y":2.49,"v":1},
{"s":10,"x":10.2,"y":1.38,"Y":1.38,"v":1},{"s":10,"x":18.05,"y":1.38,"Y":2.49,"v":1},{"s":10,"x":22,"y":1.38,"Y":2.49,"v":1}]},
"mark":{"type":"area","clip":true},"encoding":{"y2":{"field":"Y"},"detail":{"field":"s"},"color":{"field":"v","type":"quantitative","scale":{"domain":[0.15,0.469,0.7875,1],"range":["#000000","#ff0000","#ffff00","#ffffff"],"interpolate":"rgb"},"legend":{"type":"gradient","format":"~g","values":[0.2,0.4,0.6,0.8,1],"labelFontSize":16,"gradientLength":220}}}},
{"data":{"values":[{"s":"p","x":7.05,"y":1.38},{"s":"p","x":12.75,"y":2.485}]},"mark":{"type":"line","stroke":"#c9559f","strokeWidth":2.5,"clip":true},"encoding":{"detail":{"field":"s"}}},
{"data":{"values":[{"s":"g","x":10.45,"y":1.38},{"s":"g","x":19.2,"y":2.485}]},"mark":{"type":"line","stroke":"#2fb87a","strokeWidth":2.5,"clip":true},"encoding":{"detail":{"field":"s"}}},
{"data":{"values":[{"s":1,"x":4.4,"y":1.64},{"s":1,"x":13.8,"y":1.93},{"s":2,"x":8.5,"y":1.39},{"s":2,"x":11.1,"y":1.51}]},"mark":{"type":"line","stroke":"#ffffff","strokeWidth":2,"strokeDash":[6,3]},"encoding":{"detail":{"field":"s"}}},
{"data":{"values":[{"s":1,"x":14.3,"y":1.95},{"s":1,"x":21.9,"y":2.18},{"s":2,"x":11.2,"y":1.515},{"s":2,"x":21.9,"y":1.99}]},"mark":{"type":"line","stroke":"#111111","strokeWidth":2,"strokeDash":[6,3]},"encoding":{"detail":{"field":"s"}}},
{"data":{"values":[{"x":18.6,"y":2.15,"t":"q = 3"}]},"mark":{"type":"text","font":"Liberation Serif","fontSize":23,"angle":328},"encoding":{"text":{"field":"t"}}},
{"data":{"values":[{"x":15.9,"y":1.79,"t":"q = 2"}]},"mark":{"type":"text","font":"Liberation Serif","fontSize":23,"angle":320},"encoding":{"text":{"field":"t"}}},
{"data":{"values":[{"x":0.4,"y":2.41,"t":"TE"}]},"mark":{"type":"text","font":"Liberation Serif","fontSize":24,"align":"left","color":"#111"},"encoding":{"text":{"field":"t"}}},
{"data":{"values":[{"x":-5,"y":2.44,"t":"(c)"}]},"mark":{"type":"text","font":"Open Sans","fontSize":14,"align":"left","color":"#333"},"encoding":{"text":{"field":"t"}}}
]},
{"width":239,"height":220,"encoding":{"x":{"field":"x","type":"quantitative","scale":{"domain":[0,22]},"axis":{"values":[0,5,10,15,20],"title":"β (μm⁻¹)","titlePadding":1}},"y":{"field":"y","type":"quantitative","scale":{"domain":[1.38,2.485]},"axis":{"values":[1.4,1.6,1.8,2,2.2,2.4],"format":".2~f","title":null}}},
"layer":[
{"data":{"name":"dcells"},"mark":{"type":"rect","clip":true,"fillOpacity":0,"strokeWidth":0.8},"encoding":{"x2":{"field":"X"},"y2":{"field":"Y"},"stroke":{"field":"v","type":"quantitative","scale":{"domain":[0,0.75,1.5,2.0001],"range":["#000000","#ff0000","#ffff00","#ffffff"],"interpolate":"rgb"},"legend":null}}},
{"data":{"name":"dcells"},"mark":{"type":"rect","clip":true},"encoding":{"x2":{"field":"X"},"y2":{"field":"Y"},"color":{"field":"v","type":"quantitative","scale":{"domain":[0,0.75,1.5,2],"range":["#000000","#ff0000","#ffff00","#ffffff"],"interpolate":"rgb"},"legend":{"type":"gradient","format":"~g","values":[0,0.5,1,1.5,2],"gradientLength":220}}}},
{"data":{"values":[
{"s":1,"x":13.7,"y":1.38,"Y":1.9,"v":0.12},{"s":1,"x":16,"y":1.38,"Y":1.95,"v":0.12},{"s":1,"x":19,"y":1.38,"Y":2.02,"v":0.12},{"s":1,"x":22,"y":1.38,"Y":2.11,"v":0.12},
{"s":2,"x":10.3,"y":1.38,"Y":1.4,"v":0.7},{"s":2,"x":12,"y":1.47,"Y":1.65,"v":0.7},{"s":2,"x":13.6,"y":1.55,"Y":1.87,"v":0.7},{"s":2,"x":15,"y":1.62,"Y":1.78,"v":0.7},{"s":2,"x":17,"y":1.73,"Y":1.87,"v":0.7},{"s":2,"x":19,"y":1.83,"Y":1.93,"v":0.7},{"s":2,"x":21,"y":1.91,"Y":1.96,"v":0.7},{"s":2,"x":22,"y":1.94,"Y":1.98,"v":0.7},
{"s":3,"x":10.6,"y":1.4,"Y":1.42,"v":1.2},{"s":3,"x":12,"y":1.47,"Y":1.56,"v":1.2},{"s":3,"x":14,"y":1.56,"Y":1.68,"v":1.2},{"s":3,"x":16,"y":1.67,"Y":1.76,"v":1.2},{"s":3,"x":18,"y":1.78,"Y":1.86,"v":1.2},{"s":3,"x":20,"y":1.86,"Y":1.93,"v":1.2},{"s":3,"x":21,"y":1.9,"Y":1.95,"v":1.2},
{"s":4,"x":11,"y":1.42,"Y":1.44,"v":1.6},{"s":4,"x":12,"y":1.48,"Y":1.54,"v":1.6},{"s":4,"x":14,"y":1.57,"Y":1.65,"v":1.6},{"s":4,"x":16,"y":1.68,"Y":1.74,"v":1.6},{"s":4,"x":18,"y":1.79,"Y":1.84,"v":1.6},{"s":4,"x":19.5,"y":1.85,"Y":1.89,"v":1.6},
{"s":5,"x":11.5,"y":1.46,"Y":1.47,"v":2},{"s":5,"x":12.5,"y":1.51,"Y":1.54,"v":2},{"s":5,"x":14,"y":1.58,"Y":1.62,"v":2},{"s":5,"x":16,"y":1.69,"Y":1.72,"v":2},{"s":5,"x":17.5,"y":1.76,"Y":1.79,"v":2},
{"s":6,"x":10.3,"y":1.38,"Y":1.39,"v":0.1},{"s":6,"x":15,"y":1.38,"Y":1.6,"v":0.1},{"s":6,"x":18,"y":1.38,"Y":1.77,"v":0.1},{"s":6,"x":21.6,"y":1.38,"Y":1.935,"v":0.1},{"s":6,"x":22,"y":1.38,"Y":1.95,"v":0.1},
{"s":7,"x":15.1,"y":1.38,"Y":1.38,"v":0.02},{"s":7,"x":18,"y":1.38,"Y":1.574,"v":0.02},{"s":7,"x":22,"y":1.38,"Y":1.78,"v":0.02}]},
"mark":{"type":"area","clip":true},"encoding":{"y2":{"field":"Y"},"detail":{"field":"s"},"fill":{"field":"v","type":"quantitative","scale":{"domain":[0,0.75,1.5,2.0001],"range":["#000000","#ff0000","#ffff00","#ffffff"],"interpolate":"rgb"},"legend":null}}},
{"data":{"values":[{"s":1,"x":13.2,"y":1.8},{"s":1,"x":14,"y":1.9},{"s":1,"x":18.6,"y":2.485},{"s":2,"x":15.1,"y":1.385},{"s":2,"x":18,"y":1.574},{"s":2,"x":22,"y":1.79}]},"mark":{"type":"line","stroke":"#ff7a10","strokeWidth":2,"clip":true},"encoding":{"detail":{"field":"s"}}},
{"data":{"values":[{"s":1,"x":3.4,"y":1.395},{"s":1,"x":6.45,"y":2.475},{"s":2,"x":6.45,"y":2.475},{"s":2,"x":17.67,"y":2.475},{"s":3,"x":10.2,"y":1.395},{"s":3,"x":17.67,"y":2.475},{"s":4,"x":3.4,"y":1.395},{"s":4,"x":10.2,"y":1.395}]},"mark":{"type":"line","stroke":"#f2e6e6","strokeWidth":2},"encoding":{"detail":{"field":"s"}}},
{"data":{"values":[{"s":1,"x":4.5,"y":1.65},{"s":1,"x":9,"y":1.77},{"s":1,"x":13.7,"y":1.9},{"s":1,"x":17.5,"y":1.99},{"s":1,"x":21.6,"y":2.105}]},"mark":{"type":"line","stroke":"#ffffff","strokeWidth":2.5,"strokeDash":[7,3]},"encoding":{"detail":{"field":"s"}}},
{"data":{"values":[{"s":1,"x":9.75,"y":1.4},{"s":1,"x":15,"y":1.61},{"s":1,"x":18,"y":1.77},{"s":1,"x":21.6,"y":1.935}]},"mark":{"type":"line","stroke":"#111111","strokeWidth":2,"strokeDash":[6,3]},"encoding":{"detail":{"field":"s"}}},
{"data":{"values":[{"x":0.45,"y":2.41,"t":"TE"}]},"mark":{"type":"text","font":"Liberation Serif","fontSize":24,"align":"left","color":"#f5eeee"},"encoding":{"text":{"field":"t"}}},
{"data":{"values":[{"x":-4.6,"y":2.44,"t":"(d)"}]},"mark":{"type":"text","font":"Open Sans","fontSize":14,"align":"left","color":"#333"},"encoding":{"text":{"field":"t"}}}
]},
{"width":271,"height":220,"encoding":{"x":{"field":"x","type":"quantitative","scale":{"domain":[400,2000]},"axis":{"values":[500,1000,1500,2000],"format":"d","title":"Wavelength (nm)","titlePadding":1,"labelFontSize":16}},"y":{"field":"y","type":"quantitative","scale":{"domain":[0.1,0.5]},"axis":{"values":[0.1,0.2,0.3,0.4,0.5],"format":".1f","title":"Reflectance","titlePadding":14,"labelFontSize":16}}},
"layer":[
{"data":{"values":[{"s":1,"x":573,"y":0.1},{"s":1,"x":573,"y":0.458},{"s":2,"x":675,"y":0.1},{"s":2,"x":675,"y":0.458},{"s":3,"x":864,"y":0.1},{"s":3,"x":864,"y":0.458},{"s":4,"x":1378,"y":0.1},{"s":4,"x":1378,"y":0.458}]},"mark":{"type":"line","stroke":"#888888","strokeWidth":1.5,"strokeDash":[5,3]},"encoding":{"detail":{"field":"s"}}},
{"data":{"values":[{"x":400,"y":0.1},{"x":426,"y":0.105},{"x":455,"y":0.112},{"x":485,"y":0.118},{"x":504,"y":0.133},{"x":524,"y":0.152},{"x":544,"y":0.162},{"x":567,"y":0.168},{"x":583,"y":0.179},{"x":609,"y":0.205},{"x":632,"y":0.239},{"x":642,"y":0.252},{"x":662,"y":0.246},{"x":675,"y":0.239},{"x":691,"y":0.251},{"x":707,"y":0.267},{"x":721,"y":0.3},{"x":730,"y":0.295},{"x":740,"y":0.318},{"x":748,"y":0.33},{"x":756,"y":0.355},{"x":770,"y":0.38},{"x":778,"y":0.37},{"x":786,"y":0.372},{"x":800,"y":0.324},{"x":819,"y":0.245},{"x":839,"y":0.203},{"x":859,"y":0.191},{"x":878,"y":0.197},{"x":898,"y":0.221},{"x":910,"y":0.224},{"x":923,"y":0.239},{"x":935,"y":0.24},{"x":947,"y":0.27},{"x":967,"y":0.261},{"x":977,"y":0.276},{"x":990,"y":0.311},{"x":1000,"y":0.29},{"x":1006,"y":0.276},{"x":1018,"y":0.3},{"x":1026,"y":0.306},{"x":1045,"y":0.336},{"x":1075,"y":0.348},{"x":1101,"y":0.376},{"x":1114,"y":0.367},{"x":1130,"y":0.397},{"x":1140,"y":0.4},{"x":1158,"y":0.436},{"x":1170,"y":0.432},{"x":1183,"y":0.433},{"x":1193,"y":0.436},{"x":1203,"y":0.427},{"x":1213,"y":0.431},{"x":1223,"y":0.436},{"x":1242,"y":0.397},{"x":1262,"y":0.358},{"x":1286,"y":0.288},{"x":1311,"y":0.264},{"x":1341,"y":0.236},{"x":1376,"y":0.221},{"x":1396,"y":0.239},{"x":1419,"y":0.244},{"x":1430,"y":0.235},{"x":1443,"y":0.233},{"x":1455,"y":0.24},{"x":1469,"y":0.239},{"x":1484,"y":0.252},{"x":1502,"y":0.303},{"x":1528,"y":0.327},{"x":1547,"y":0.327},{"x":1571,"y":0.342},{"x":1597,"y":0.333},{"x":1620,"y":0.355},{"x":1636,"y":0.348},{"x":1650,"y":0.366},{"x":1671,"y":0.366},{"x":1685,"y":0.343},{"x":1715,"y":0.351},{"x":1744,"y":0.366},{"x":1764,"y":0.358},{"x":1783,"y":0.373},{"x":1813,"y":0.372},{"x":1842,"y":0.384},{"x":1882,"y":0.378},{"x":1902,"y":0.37},{"x":1921,"y":0.384},{"x":1951,"y":0.382},{"x":1980,"y":0.386},{"x":2000,"y":0.374}]},"mark":{"type":"line","stroke":"#111111","strokeWidth":1.8}},
{"data":{"values":[{"x":504,"y":0.479,"t":"q=4"},{"x":672,"y":0.479,"t":"3"},{"x":858,"y":0.479,"t":"2"},{"x":1370,"y":0.479,"t":"1"}]},"mark":{"type":"text","font":"Open Sans","fontSize":20,"color":"#111"},"encoding":{"text":{"field":"t"}}},
{"data":{"values":[{"x":87,"y":0.482,"t":"(e)"}]},"mark":{"type":"text","font":"Open Sans","fontSize":14,"align":"left","color":"#333"},"encoding":{"text":{"field":"t"}}}
]},
{"width":275,"height":221,"encoding":{"x":{"field":"x","type":"quantitative","scale":{"domain":[400,2000]},"axis":{"values":[500,1000,1500,2000],"format":"d","title":"Wavelength (nm)","titlePadding":1}},"y":{"field":"y","type":"quantitative","scale":{"domain":[0,1]},"axis":{"values":[0,0.2,0.4,0.6,0.8,1],"format":".1~f","title":"Reflectance","titlePadding":9}}},
"layer":[
{"data":{"values":[{"s":1,"x":630,"y":0.024},{"s":1,"x":630,"y":0.91},{"s":2,"x":686,"y":0.024},{"s":2,"x":686,"y":0.91},{"s":3,"x":845,"y":0.024},{"s":3,"x":845,"y":0.91},{"s":4,"x":1364,"y":0.024},{"s":4,"x":1364,"y":0.91}]},"mark":{"type":"line","stroke":"#888888","strokeWidth":1.5,"strokeDash":[5,3]},"encoding":{"detail":{"field":"s"}}},
{"data":{"values":[{"x":400,"y":0.081},{"x":439,"y":0.078},{"x":473,"y":0.075},{"x":493,"y":0.111},{"x":512,"y":0.217},{"x":532,"y":0.268},{"x":555,"y":0.259},{"x":584,"y":0.224},{"x":613,"y":0.19},{"x":632,"y":0.179},{"x":652,"y":0.172},{"x":671,"y":0.127},{"x":686,"y":0.096},{"x":706,"y":0.157},{"x":729,"y":0.307},{"x":758,"y":0.355},{"x":777,"y":0.33},{"x":797,"y":0.217},{"x":822,"y":0.066},{"x":845,"y":0},{"x":868,"y":0.089},{"x":893,"y":0.292},{"x":922,"y":0.443},{"x":961,"y":0.563},{"x":1000,"y":0.631},{"x":1058,"y":0.696},{"x":1106,"y":0.729},{"x":1145,"y":0.741},{"x":1184,"y":0.729},{"x":1222,"y":0.669},{"x":1251,"y":0.563},{"x":1280,"y":0.367},{"x":1300,"y":0.187},{"x":1329,"y":0.066},{"x":1362,"y":0.041},{"x":1391,"y":0.066},{"x":1435,"y":0.157},{"x":1484,"y":0.247},{"x":1542,"y":0.33},{"x":1600,"y":0.39},{"x":1677,"y":0.458},{"x":1755,"y":0.5},{"x":1851,"y":0.541},{"x":1948,"y":0.571},{"x":2000,"y":0.586}]},"mark":{"type":"line","stroke":"#111111","strokeWidth":2,"interpolate":"monotone"}},
{"data":{"values":[{"x":533,"y":0.947,"t":"q= 4"},{"x":690,"y":0.947,"t":"3"},{"x":845,"y":0.947,"t":"2"},{"x":1362,"y":0.947,"t":"1"}]},"mark":{"type":"text","font":"Open Sans","fontSize":20,"color":"#111"},"encoding":{"text":{"field":"t"}}},
{"data":{"values":[{"x":109,"y":0.955,"t":"(f)"}]},"mark":{"type":"text","font":"Open Sans","fontSize":14,"align":"left","color":"#333"},"encoding":{"text":{"field":"t"}}}
]}
]}
